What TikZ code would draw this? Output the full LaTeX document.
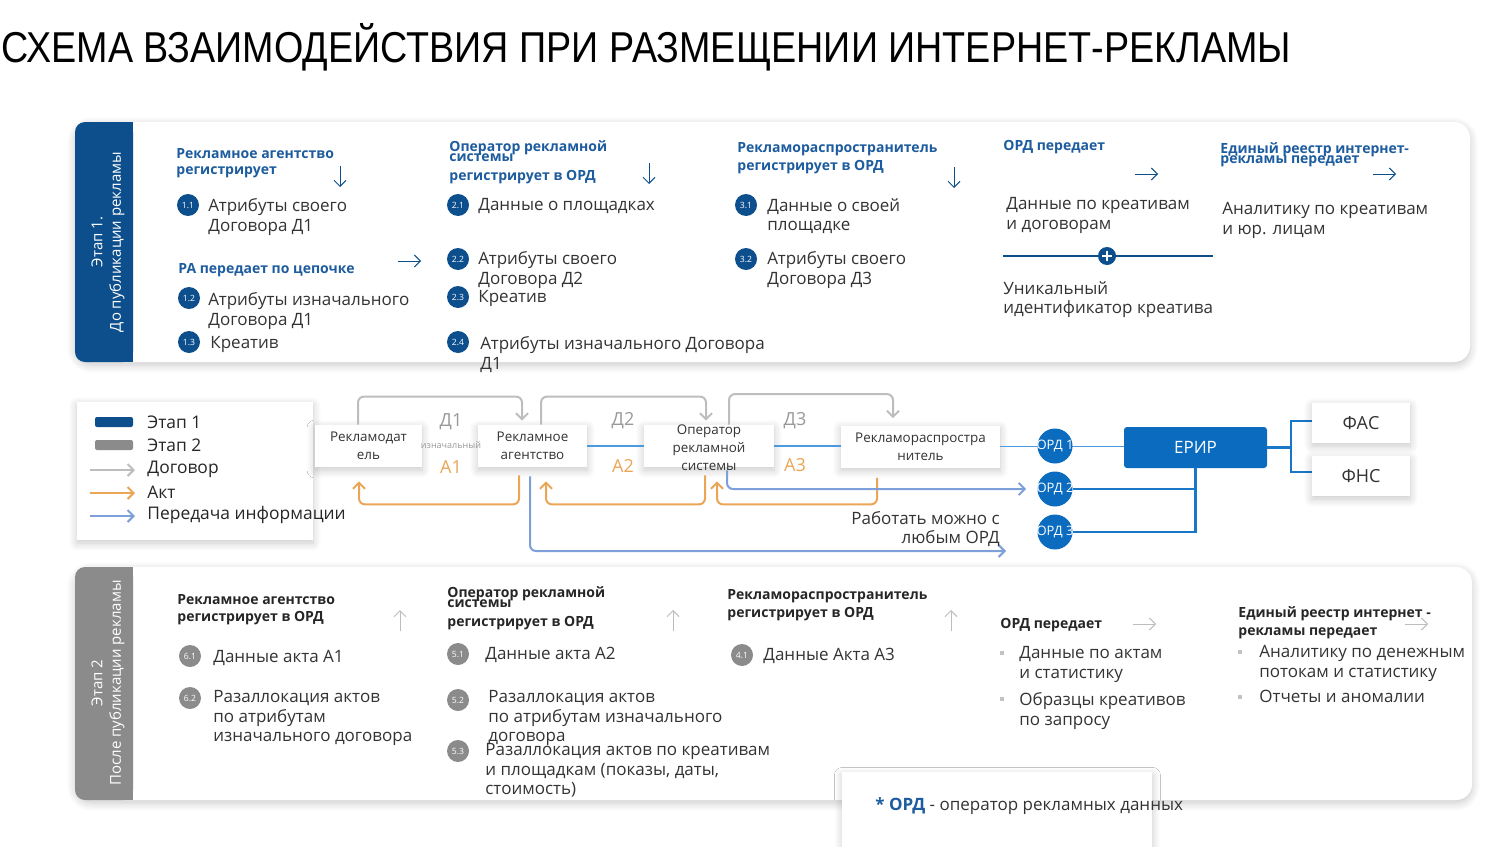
\documentclass[tikz,border=0pt]{standalone}
\usepackage{fontspec}
\usepackage{graphicx}
\setmainfont{Open Sans}
\newfontfamily\ttlfont{Liberation Sans}
\usetikzlibrary{arrows.meta,shadows.blur,calc}
\definecolor{dblue}{HTML}{0D4F8C}
\definecolor{hblue}{HTML}{1D5C9E}
\definecolor{mblue}{HTML}{0B6CBF}
\definecolor{lblue}{HTML}{4A9AE0}
\definecolor{tblue}{HTML}{1A76C6}
\definecolor{iblue}{HTML}{7D9FDA}
\definecolor{orng}{HTML}{EAA556}
\definecolor{cgray}{HTML}{BDBDBD}
\definecolor{bgray}{HTML}{8B8B8B}
\definecolor{txt}{HTML}{333333}
\definecolor{lgray}{HTML}{999999}
\begin{document}
\begin{tikzpicture}[x=0.5pt,y=-0.5pt,
  body/.style={anchor=north west, inner sep=0pt, align=left, text=txt, font=\fontsize{8.5}{9.8}\selectfont},
  head/.style={anchor=north west, inner sep=0pt, align=left, text=hblue, font=\fontsize{7}{8}\selectfont\bfseries},
  headk/.style={head, text=black!85},
  badge/.style={circle, fill=dblue, text=white, inner sep=0pt, minimum size=11pt, font=\fontsize{4.3}{5}\selectfont},
  badgeg/.style={badge, fill=bgray},
  harrow/.style={draw=dblue, line width=0.5pt, -{Straight Barb[length=3pt,width=6pt]}},
  garrow/.style={harrow, draw=cgray},
  softshadow/.style={blur shadow={shadow blur steps=8, shadow xshift=0pt, shadow yshift=-1.5pt, shadow blur radius=4pt, shadow opacity=22}},
  mbox/.style={fill=white, softshadow, inner sep=0pt, minimum height=21pt, align=center, text=txt, font=\fontsize{6.7}{9}\selectfont},
  mtext/.style={inner sep=0pt, align=center, text=txt, font=\fontsize{6.7}{9}\selectfont},
  contract/.style={draw=cgray, line width=1pt, rounded corners=3pt, -{Straight Barb[length=3pt,width=6pt]}},
  act/.style={contract, draw=orng},
  info/.style={contract, draw=iblue},
  dlab/.style={inner sep=0pt, text=lgray, font=\fontsize{9}{10}\selectfont},
  alab/.style={inner sep=0pt, text=orng, font=\fontsize{9}{10}\selectfont},
  legt/.style={anchor=west, inner sep=0pt, text=black!85, font=\fontsize{8.7}{10}\selectfont},
  bandt/.style={inner sep=0pt, text=white, rotate=90, font=\fontsize{7.5}{9}\selectfont},
  whitebox/.style={fill=white, softshadow, inner sep=0pt, text=txt, font=\fontsize{9}{10}\selectfont},
  bullet/.style={fill=lgray!60}
]
\useasboundingbox (0,0) rectangle (1499,846);

% title
\node[anchor=base west, inner sep=0pt, font=\ttlfont\fontsize{21.6}{24}\selectfont, text=black] (title) at (1,62)
  {\scalebox{0.873}[1]{СХЕМА ВЗАИМОДЕЙСТВИЯ ПРИ РАЗМЕЩЕНИИ ИНТЕРНЕТ-РЕКЛАМЫ}};

% ---------- panel 1 ----------
\path[fill=white, softshadow, rounded corners=8pt] (75,122) rectangle (1470,362);
\fill[dblue, rounded corners=5pt] (75,122) rectangle (133,362);
\fill[dblue] (110,122) rectangle (133,362);
\node[bandt] (b1a) at (97,242) {Этап 1.};
\node[bandt] (b1b) at (117,242) {До публикации рекламы};

% col 1
\node[head] (h11) at (176,148) {Рекламное агентство\\регистрирует};
\draw[harrow] (340,166) -- (340,187);
\node[badge] (b11) at (188,205) {1.1};
\node[body] (t11) at (208,198) {Атрибуты своего\\Договора Д1};
\node[head] (h12) at (178,263) {РА передает по цепочке};
\draw[harrow] (398,261) -- (421,261);
\node[badge] (b12) at (189,298) {1.2};
\node[body] (t12) at (208,292) {Атрибуты изначального\\Договора Д1};
\node[badge] (b13) at (189,342) {1.3};
\node[body] (t13) at (210,336) {Креатив};

% col 2
\node[head] (h2) at (449,140) {Оператор рекламной\\[-3pt]системы\\[1.5pt]регистрирует в ОРД};
\draw[harrow] (649,163) -- (649,184);
\node[badge] (b21) at (458,205) {2.1};
\node[body] (t21) at (478,198) {Данные о площадках};
\node[badge] (b22) at (458,259) {2.2};
\node[body] (t22) at (478,251) {Атрибуты своего\\Договора Д2};
\node[badge] (b23) at (458,297) {2.3};
\node[body] (t23) at (478,290) {Креатив};
\node[badge] (b24) at (458,342) {2.4};
\node[body] (t24) at (480,336) {Атрибуты изначального Договора\\Д1};

% col 3
\node[head] (h3) at (737,142) {Рекламораспространитель\\[1pt]регистрирует в ОРД};
\draw[harrow] (954,167) -- (954,188);
\node[badge] (b31) at (746,205) {3.1};
\node[body] (t31) at (767,198) {Данные о своей\\площадке};
\node[badge] (b32) at (746,259) {3.2};
\node[body] (t32) at (767,251) {Атрибуты своего\\Договора Д3};

% col 4
\node[head] (h4) at (1003,140) {ОРД передает};
\draw[harrow] (1135,174) -- (1158,174);
\node[body] (t41) at (1006,197) {Данные по креативам\\и договорам};
\node[circle, fill=dblue, minimum size=9pt, inner sep=0pt] (plus) at (1107,256) {};
\draw[white, line width=1.1pt] ($(plus)+(-5,0)$) -- ($(plus)+(5,0)$) ($(plus)+(0,-5)$) -- ($(plus)+(0,5)$);
\coordinate (pl) at (1003,256);
\coordinate (pr) at (1213,256);
\draw[dblue, line width=0.8pt] (pl) -- (plus.west) (plus.east) -- (pr);
\node[body] (t42) at (1003,281) {Уникальный\\идентификатор креатива};

% col 5
\node[head] (h5) at (1220,142) {Единый реестр интернет-\\[-3pt]рекламы передает};
\draw[harrow] (1373,174) -- (1396,174);
\node[body] (t51) at (1222,202) {Аналитику по креативам\\и юр. лицам};

% ---------- panel 2 ----------
\path[fill=white, softshadow, rounded corners=8pt] (75,567) rectangle (1472,800);
\fill[bgray, rounded corners=5pt] (75,567) rectangle (133,800);
\fill[bgray] (110,567) rectangle (133,800);
\node[bandt] (b2a) at (97,683) {Этап 2};
\node[bandt] (b2b) at (117,683) {После публикации рекламы};

\node[headk] (h61) at (177,594) {Рекламное агентство\\[0.5pt]регистрирует в ОРД};
\draw[garrow] (400,631) -- (400,610);
\node[badgeg] (b61) at (190,656) {6.1};
\node[body] (t61) at (213,650) {Данные акта А1};
\node[badgeg] (b62) at (190,698) {6.2};
\node[body] (t62) at (213,690) {Разаллокация актов\\по атрибутам\\изначального договора};

\node[headk] (h51) at (447,586) {Оператор рекламной\\[-3pt]системы\\[1.5pt]регистрирует в ОРД};
\draw[garrow] (673,631) -- (673,610);
\node[badgeg] (b51) at (458,654) {5.1};
\node[body] (t51b) at (485,647) {Данные акта А2};
\node[badgeg] (b52) at (458,700) {5.2};
\node[body] (t52) at (488,690) {Разаллокация актов\\по атрибутам изначального\\договора};
\node[badgeg] (b53) at (458,751) {5.3};
\node[body] (t53) at (485,743) {Разаллокация актов по креативам\\и площадкам (показы, даты,\\стоимость)};

\node[headk] (h41) at (727,589) {Рекламораспространитель\\[1pt]регистрирует в ОРД};
\draw[garrow] (951,631) -- (951,610);
\node[badgeg] (b41) at (742,655) {4.1};
\node[body] (t41b) at (763,648) {Данные Акта А3};

\node[headk] (h42) at (1000,618) {ОРД передает};
\draw[garrow] (1133,624) -- (1156,624);
\fill[bullet] (1000,651) rectangle (1004,655);
\fill[bullet] (1000,697) rectangle (1004,701);
\node[body] (t42a) at (1019,646) {Данные по актам\\и статистику};
\node[body] (t42b) at (1019,692) {Образцы креативов\\по запросу};

\node[headk] (h43) at (1238,606) {Единый реестр интернет -\\[1pt]рекламы передает};
\draw[garrow] (1405,624) -- (1428,624);
\fill[bullet] (1238,650) rectangle (1242,654);
\fill[bullet] (1238,695) rectangle (1242,699);
\node[body] (t43a) at (1259,645) {Аналитику по денежным\\потокам и статистику};
\node[body] (t43b) at (1259,690) {Отчеты и аномалии};

% footnote
\node[fill=white, softshadow, minimum width=155pt, minimum height=40pt, inner sep=0pt, anchor=north west] (fn) at (842,772) {};
\node[anchor=west, inner sep=0pt, text=txt, font=\fontsize{8.5}{10}\selectfont] (fnt) at (875,806)
  {\textcolor{hblue}{\bfseries * ОРД} - оператор рекламных данных};

% ---------- legend ----------
\node[fill=white, softshadow, minimum width=118pt, minimum height=69pt, inner sep=0pt] (lg) at (195,471) {};
\fill[dblue, rounded corners=1pt] (95,417) rectangle (133,427);
\fill[bgray, rounded corners=1pt] (95,440) rectangle (133,450);
\draw[contract] (90,470) -- (135,470);
\draw[act] (90,493) -- (135,493);
\draw[info] (90,516) -- (135,516);
\node[legt] (l1) at (147,422) {Этап 1};
\node[legt] (l2) at (147,445) {Этап 2};
\node[legt] (l3) at (147,469) {Договор};
\node[legt] (l4) at (147,492) {Акт};
\node[legt] (l5) at (147,515) {Передача информации};

% ---------- chain ----------
\node[mbox, minimum width=53.5pt] (n1) at (368.5,446) {Рекламодат\\ель};
\node[mbox, minimum width=54.5pt] (n2) at (532.5,446) {Рекламное\\агентство};
\node[mbox, minimum width=65pt] (n3) at (709,446) {};
\node[mtext] (n3t) at (709,448) {Оператор\\рекламной\\системы};
\node[mbox, minimum width=79.5pt] (n4) at (920.5,446.5) {Рекламораспростра\\нитель};

\node[dlab] (d1) at (451,422) {Д1};
\node[inner sep=0pt, text=lgray, font=\fontsize{4.5}{5}\selectfont] (d1i) at (451,445) {изначальный};
\node[alab] (a1) at (451,467) {А1};
\node[dlab] (d2) at (623,421) {Д2};
\node[alab] (a2) at (623,466) {А2};
\node[dlab] (d3) at (795,421) {Д3};
\node[alab] (a3) at (795,465) {А3};

% right side nodes
\node[fill=mblue, rounded corners=1.5pt, minimum width=71.5pt, minimum height=20.5pt, inner sep=0pt, text=white, font=\fontsize{8.5}{10}\selectfont] (erir) at (1195.5,447.5) {ЕРИР};
\coordinate (jn) at (1291,447.5);
\coordinate (j1) at (1291,421);
\coordinate (j2) at (1291,472);

% lines
\draw[lblue, line width=0.6pt] (n2.east) -- (n3.west);
\draw[lblue, line width=0.6pt] (n3.east) -- (n3.east -| n4.west);
\draw[lblue, line width=0.6pt] (n4.east) -- (n4.east -| erir.west);

\node[circle, fill=mblue, minimum size=17.5pt, inner sep=0pt] (o1) at (1055,446) {};
\node[circle, fill=mblue, minimum size=17.5pt, inner sep=0pt] (o2) at (1055,489) {};
\node[circle, fill=mblue, minimum size=17.5pt, inner sep=0pt] (o3) at (1055,532) {};
\draw[tblue, line width=1.4pt] (o2.east) -- (o2 -| erir.south);
\draw[tblue, line width=1.4pt] (o3.east) -- (o3 -| erir.south) -- (erir.south);
\draw[tblue, line width=1.4pt] (erir.east) -- (jn);
\draw[tblue, line width=1.4pt] (1312,421) -- (j1) -- (j2) -- (1312,472);
\node[inner sep=0pt, text=white, font=\fontsize{6.5}{7}\selectfont] (o1t) at (o1) {ОРД 1};
\node[inner sep=0pt, text=white, font=\fontsize{6.5}{7}\selectfont] (o2t) at (o2) {ОРД 2};
\node[inner sep=0pt, text=white, font=\fontsize{6.5}{7}\selectfont] (o3t) at (o3) {ОРД 3};

\node[whitebox, minimum width=49pt, minimum height=20pt] (fas) at (1361,423) {ФАС};
\node[whitebox, minimum width=49pt, minimum height=20pt] (fns) at (1361,476) {ФНС};

% contracts
\draw[contract] ($(n1.north)+(-10.5,0)$) |- ($(n2.north)+(-10.5,-28)$) -- ($(n2.north)+(-10.5,-4)$);
\draw[contract] ($(n2.north)+(8.5,0)$) |- ($(n3.north)+(-3,-28)$) -- ($(n3.north)+(-3,-4)$);
\draw[contract] ($(n3.north)+(20,0)$) |- ($(n4.north)+(-27.5,-31)$) -- ($(n4.north)+(-27.5,-7)$);
% acts
\draw[act] ($(n2.south)+(-13.5,8)$) |- ($(n1.south)+(-9.5,37)$) -- ($(n1.south)+(-9.5,14)$);
\draw[act] ($(n3.south)+(-4,8)$) |- ($(n2.south)+(13.5,37)$) -- ($(n2.south)+(13.5,14)$);
\draw[act] ($(n4.south)+(-43.5,10)$) |- ($(n3.south)+(8,37)$) -- ($(n3.south)+(8,14)$);
% info
\draw[info] ($(n3.south)+(18,3)$) |- ($(o2.west)+(-11,0)$);
\coordinate (infoend) at (1006,551);
\draw[info] ($(n2.south)+(-2.5,9)$) |- (infoend);

\node[anchor=east, inner sep=0pt, align=right, text=txt, font=\fontsize{8.5}{9.6}\selectfont] (work) at (1000,529) {Работать можно с\\любым ОРД};
\end{tikzpicture}
\end{document}
